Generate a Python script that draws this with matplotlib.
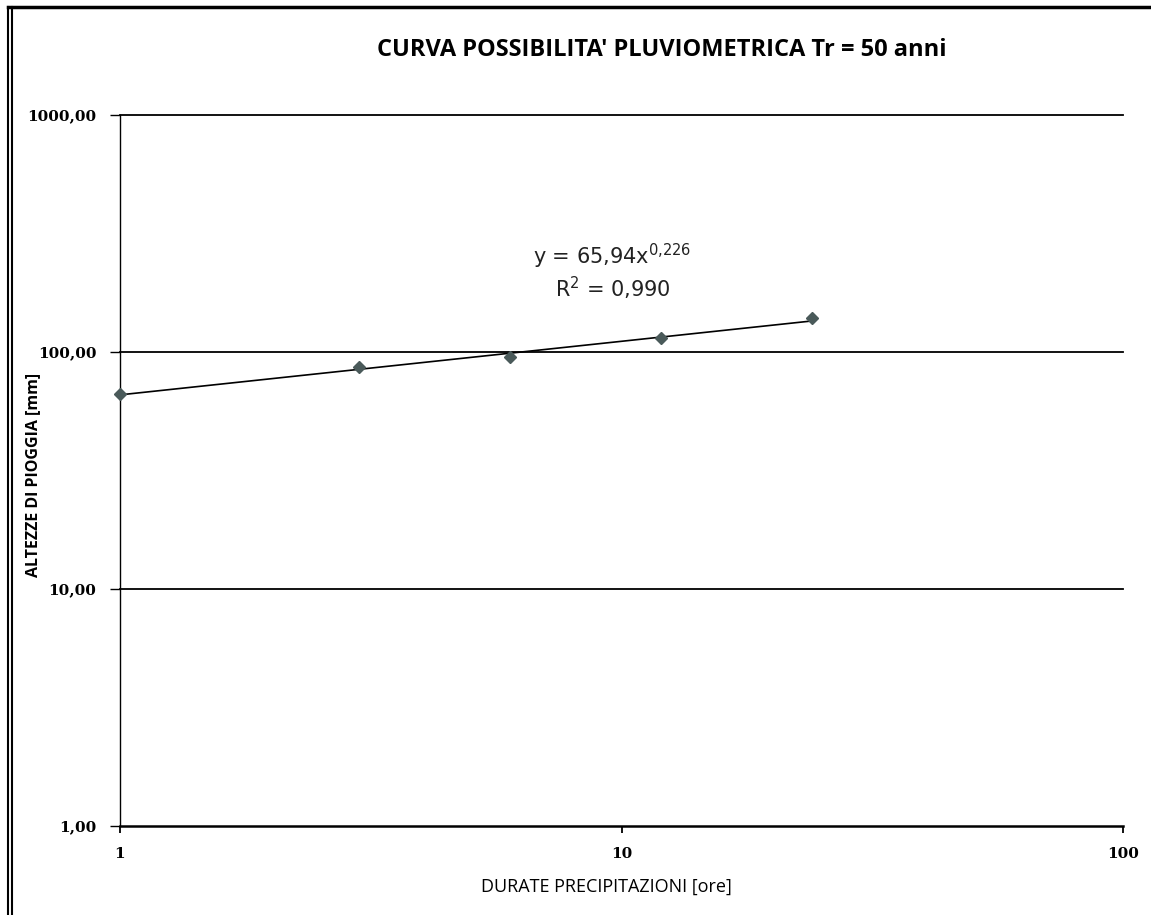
import numpy as np
import matplotlib
matplotlib.use("Agg")
import matplotlib.pyplot as plt
from matplotlib.lines import Line2D
from matplotlib.ticker import FixedLocator, FixedFormatter, NullLocator

# Data
durate = [1, 3, 6, 12, 24]
altezze = [66.5, 86.4, 95.3, 114.6, 139.0]
coef_a = 65.94
coef_n = 0.226
r2 = 0.990

title = "CURVA POSSIBILITA' PLUVIOMETRICA Tr = 50 anni"
xlabel = "DURATE PRECIPITAZIONI [ore]"
ylabel = "ALTEZZE DI PIOGGIA [mm]"
yticks = [1, 10, 100, 1000]
ytick_labels = ["1,00", "10,00", "100,00", "1000,00"]
xticks = [1, 10, 100]
xtick_labels = ["1", "10", "100"]

W, H = 1151, 915
fig = plt.figure(figsize=(W / 100, H / 100), dpi=100)
ax = fig.add_axes([120 / W, 1 - 826 / H, (1123 - 120) / W, (826 - 115) / H])
ax.set_xscale("log")
ax.set_yscale("log")
ax.set_xlim(1, 100)
ax.set_ylim(1, 1000)

# gridlines
for yv in yticks[1:]:
    ax.axhline(yv, color="black", lw=1.3, zorder=1, clip_on=False)

# trendline
xt = np.logspace(0, np.log10(durate[-1]), 200)
ax.plot(xt, coef_a * xt ** coef_n, color="black", lw=1.2, zorder=2)

# data points
ax.plot(durate, altezze, linestyle="none", marker="D", markersize=6.5,
        color="#4a5a5a", markeredgecolor="#4a5a5a", zorder=3, clip_on=False)

for s in ["top", "right"]:
    ax.spines[s].set_visible(False)
ax.spines["left"].set_linewidth(1.0)
ax.spines["bottom"].set_linewidth(1.8)

ax.yaxis.set_major_locator(FixedLocator(yticks))
ax.yaxis.set_major_formatter(FixedFormatter(ytick_labels))
ax.yaxis.set_minor_locator(NullLocator())
ax.xaxis.set_major_locator(FixedLocator(xticks))
ax.xaxis.set_major_formatter(FixedFormatter(xtick_labels))
ax.xaxis.set_minor_locator(NullLocator())
ax.tick_params(axis="y", direction="out", length=7, width=1, pad=10,
               labelsize=11)
ax.tick_params(axis="x", direction="out", length=5, width=1.3, pad=10,
               labelsize=11)
for lab in ax.get_yticklabels() + ax.get_xticklabels():
    lab.set_family("DejaVu Serif")
    lab.set_fontweight("bold")

# labels
fig.text(662 / W, 1 - 50 / H, title, ha="center", va="center",
         fontsize=17, fontweight="bold", family="Open Sans")
fig.text(606 / W, 1 - 887 / H, xlabel, ha="center", va="center",
         fontsize=13, family="Open Sans")
fig.text(33 / W, 1 - 475 / H, ylabel, ha="center", va="center",
         rotation=90, fontsize=11.5, family="Open Sans", fontweight="bold")

# equation
fig.text(612 / W, 1 - 256 / H, "y = 65,94x$^{0{,}226}$",
         ha="center", va="center", fontsize=15, family="DejaVu Sans",
         color="#222222")
fig.text(613 / W, 1 - 288 / H, "R$^{2}$ = 0,990",
         ha="center", va="center", fontsize=15, family="DejaVu Sans",
         color="#222222")

# figure border
fig.add_artist(Line2D([8 / W, 1], [1 - 7 / H, 1 - 7 / H], transform=fig.transFigure,
                      color="black", lw=2.5))
fig.add_artist(Line2D([8 / W, 8 / W], [0, 1 - 7 / H], transform=fig.transFigure,
                      color="black", lw=1.5))
fig.add_artist(Line2D([12 / W, 12 / W], [0, 1 - 7 / H], transform=fig.transFigure,
                      color="black", lw=1.5))

fig.savefig("out.png", dpi=100)
